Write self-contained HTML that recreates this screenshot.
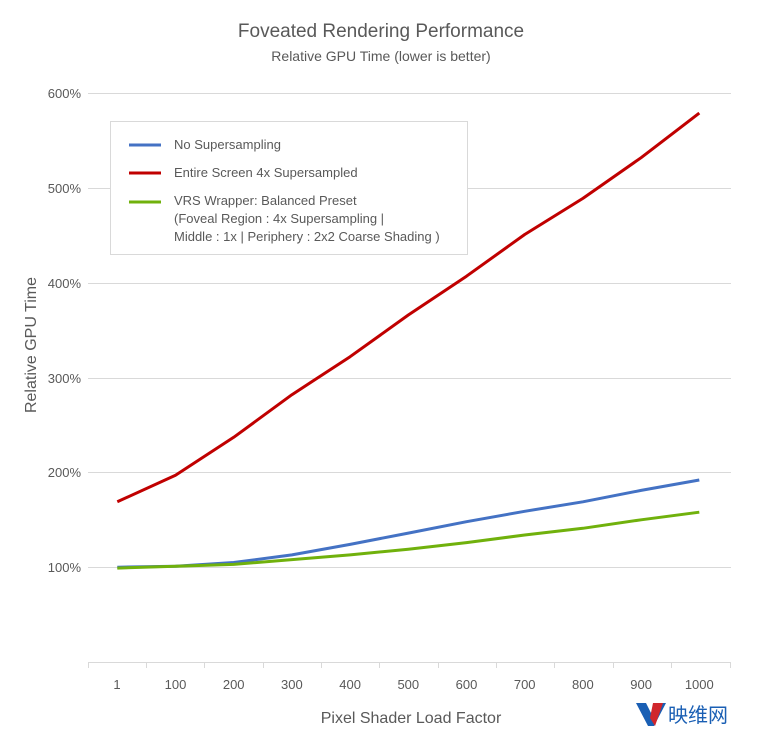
<!DOCTYPE html>
<html><head><meta charset="utf-8"><style>
body{margin:0;background:#fff}
text{font-family:"Liberation Sans","Noto Sans CJK SC",sans-serif;fill:#595959}
</style></head><body>
<svg width="768" height="747" viewBox="0 0 768 747" xmlns="http://www.w3.org/2000/svg">
<rect width="768" height="747" fill="#fff"/>
<text x="381" y="37" font-size="19" text-anchor="middle">Foveated Rendering Performance</text>
<text x="381" y="61" font-size="14" text-anchor="middle">Relative GPU Time (lower is better)</text>
<g stroke="#d9d9d9" stroke-width="1">
<line x1="88" y1="93.5" x2="731" y2="93.5"/>
<line x1="88" y1="188.5" x2="731" y2="188.5"/>
<line x1="88" y1="283.5" x2="731" y2="283.5"/>
<line x1="88" y1="378.5" x2="731" y2="378.5"/>
<line x1="88" y1="472.5" x2="731" y2="472.5"/>
<line x1="88" y1="567.5" x2="731" y2="567.5"/>
<line x1="88" y1="662.5" x2="731" y2="662.5"/>
<line x1="88.5" y1="662" x2="88.5" y2="668"/><line x1="146.5" y1="662" x2="146.5" y2="668"/><line x1="204.5" y1="662" x2="204.5" y2="668"/><line x1="263.5" y1="662" x2="263.5" y2="668"/><line x1="321.5" y1="662" x2="321.5" y2="668"/><line x1="379.5" y1="662" x2="379.5" y2="668"/><line x1="438.5" y1="662" x2="438.5" y2="668"/><line x1="496.5" y1="662" x2="496.5" y2="668"/><line x1="554.5" y1="662" x2="554.5" y2="668"/><line x1="613.5" y1="662" x2="613.5" y2="668"/><line x1="671.5" y1="662" x2="671.5" y2="668"/><line x1="730.5" y1="662" x2="730.5" y2="668"/>
</g>
<g font-size="13" text-anchor="end">
<text x="81" y="98">600%</text><text x="81" y="193">500%</text><text x="81" y="288">400%</text><text x="81" y="383">300%</text><text x="81" y="477">200%</text><text x="81" y="572">100%</text>
</g>
<g font-size="13" text-anchor="middle">
<text x="117" y="689">1</text><text x="175.5" y="689">100</text><text x="233.7" y="689">200</text><text x="291.9" y="689">300</text><text x="350.1" y="689">400</text><text x="408.3" y="689">500</text><text x="466.5" y="689">600</text><text x="524.7" y="689">700</text><text x="582.9" y="689">800</text><text x="641.1" y="689">900</text><text x="699.3" y="689">1000</text>
</g>
<text x="411" y="723" font-size="16" text-anchor="middle">Pixel Shader Load Factor</text>
<text transform="translate(36,345) rotate(-90)" font-size="16" text-anchor="middle">Relative GPU Time</text>
<g fill="none" stroke-width="3" stroke-linejoin="round">
<polyline stroke="#c00000" points="117.3,501.8 175.5,475.2 233.7,437.3 291.9,394.7 350.1,356.7 408.3,315 466.5,276.2 524.7,234.5 582.9,198.4 641.1,157.7 699.3,113.1"/>
<polyline stroke="#4472c4" points="117.3,567.2 175.5,566.3 233.7,562.5 291.9,554.9 350.1,544.4 408.3,533.1 466.5,521.7 524.7,511.3 582.9,501.8 641.1,490.4 699.3,480"/>
<polyline stroke="#70b10c" points="117.3,568.1 175.5,566.3 233.7,564.4 291.9,559.6 350.1,554.9 408.3,549.2 466.5,542.6 524.7,535 582.9,528.3 641.1,519.8 699.3,512.2"/>
</g>
<rect x="110.5" y="121.5" width="357" height="133" fill="#fff" stroke="#d9d9d9"/>
<g stroke-width="3">
<line x1="129" y1="145" x2="161" y2="145" stroke="#4472c4"/>
<line x1="129" y1="173" x2="161" y2="173" stroke="#c00000"/>
<line x1="129" y1="202" x2="161" y2="202" stroke="#70b10c"/>
</g>
<g font-size="13" fill="#404040">
<text x="174" y="149" fill="#404040">No Supersampling</text>
<text x="174" y="177" fill="#404040">Entire Screen 4x Supersampled</text>
<text x="174" y="205" fill="#404040">VRS Wrapper: Balanced Preset</text>
<text x="174" y="223" fill="#404040">(Foveal Region : 4x Supersampling |</text>
<text x="174" y="241" fill="#404040">Middle : 1x | Periphery : 2x2 Coarse Shading )</text>
</g>
<polygon points="636,703 646,703 651,713 656,703 666,703 654,726 648,726" fill="#1a5fb4"/>
<polygon points="653,703 663,703 655,726 650,718" fill="#d0262c"/>
<text x="668" y="722" font-size="20" style="fill:#1a5fb4">映维网</text>
</svg>
</body></html>
